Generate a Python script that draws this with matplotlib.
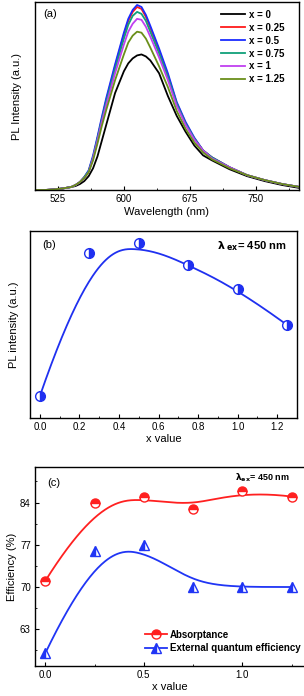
import numpy as np
import matplotlib
matplotlib.use('Agg')
import matplotlib.pyplot as plt
from matplotlib.ticker import MultipleLocator, NullLocator

plt.rcParams['font.family'] = ['Liberation Sans', 'DejaVu Sans']
plt.rcParams['font.size'] = 7
plt.rcParams['xtick.direction'] = 'in'
plt.rcParams['ytick.direction'] = 'in'
plt.rcParams['axes.linewidth'] = 1.0

# ---- (a) PL spectra -------------------------------------------------
wl = [500, 510, 520, 530, 540, 545, 550, 555, 560, 565, 570, 575, 580, 590, 600,
      605, 610, 615, 620, 625, 630, 640, 650, 660, 670, 680, 690, 700, 720, 740,
      760, 780, 800]
pl_0 = [0, 0, 0.5, 1.5, 3, 4, 6, 9, 14, 22, 34, 50, 66, 98, 120,
        128, 133, 136, 137, 135, 131, 118, 95, 75, 59, 45, 35, 30, 21, 14,
        9, 5, 2]
pl_025 = [0, 0, 0.5, 1.5, 3, 5, 8, 13, 19, 33, 52, 72, 91, 125, 157,
          171, 180, 185, 183, 175, 164, 141, 116, 88, 68, 52, 40, 33, 23, 15,
          10, 6, 3]
pl_05 = [0, 0, 0.5, 1.5, 3, 5, 8, 13, 20, 35, 54, 74, 93, 127, 159,
         173, 182, 187, 185, 177, 166, 143, 118, 89, 69, 53, 40, 33, 23, 15,
         10, 6, 3]
pl_075 = [0, 0, 0.5, 1.5, 3, 5, 8, 13, 19, 33, 52, 71, 89, 122, 153,
          167, 176, 180, 178, 171, 160, 138, 114, 87, 67, 52, 40, 33, 23, 15,
          10, 6, 3]
pl_1 = [0, 0, 0.5, 1.5, 3, 5, 8, 12, 18, 32, 50, 69, 86, 118, 147,
        160, 168, 173, 172, 165, 155, 134, 111, 85, 66, 51, 40, 32, 23, 15,
        10, 6, 3]
pl_125 = [0, 0, 0.5, 1.5, 3, 5, 8, 12, 18, 30, 47, 65, 81, 111, 137,
          149, 156, 160, 159, 153, 144, 125, 104, 80, 62, 48, 38, 31, 22, 15,
          10, 6, 3]
spectra = [pl_0, pl_025, pl_05, pl_075, pl_1, pl_125]
spec_labels = ['x = 0', 'x = 0.25', 'x = 0.5', 'x = 0.75', 'x = 1', 'x = 1.25']
spec_colors = ['black', '#ff1a1a', '#1a2cff', '#10a07a', '#c040f0', '#6a8f1a']

# ---- (b) PL intensity vs x -----------------------------------------
xv = [0.0, 0.25, 0.5, 0.75, 1.0, 1.25]
pl_int = [0.22, 1.65, 1.75, 1.53, 1.29, 0.93]

# ---- (c) efficiencies ------------------------------------------------
absorp = [71.0, 84.0, 85.0, 83.0, 86.0, 85.0]
eqe = [59.0, 76.0, 77.0, 70.0, 70.0, 70.0]


def bspline(xs, ys, k=3, num=300):
    # clamped B-spline with the data points as control points (Origin style)
    xs = np.asarray(xs, float)
    ys = np.asarray(ys, float)
    n = len(xs)
    t = np.concatenate([np.zeros(k), np.linspace(0, 1, n - k + 1), np.ones(k)])
    u = np.linspace(0, 1, num)
    u[-1] -= 1e-9
    B = np.zeros((num, len(t) - 1))
    for i in range(len(t) - 1):
        B[:, i] = (t[i] <= u) & (u < t[i + 1])
    for d in range(1, k + 1):
        Bn = np.zeros((num, len(t) - 1 - d))
        for i in range(len(t) - 1 - d):
            a = 0
            b = 0
            if t[i + d] > t[i]:
                a = (u - t[i]) / (t[i + d] - t[i]) * B[:, i]
            if t[i + d + 1] > t[i + 1]:
                b = (t[i + d + 1] - u) / (t[i + d + 1] - t[i + 1]) * B[:, i + 1]
            Bn[:, i] = a + b
        B = Bn
    return B @ xs, B @ ys


W, H = 304, 696
fig = plt.figure(figsize=(W / 100, H / 100), dpi=100)


def box(l, t, r, b):
    return [l / W, 1 - b / H, (r - l) / W, (b - t) / H]


# ======================= (a) ==========================================
ax1 = fig.add_axes(box(35, 2, 299, 190))
for s, lab, c in zip(spectra, spec_labels, spec_colors):
    ax1.plot(wl, s, color=c, lw=1.3, label=lab)
ax1.set_xlim(499, 799)
ax1.set_ylim(0, 190)
ax1.xaxis.set_major_locator(MultipleLocator(75))
ax1.xaxis.set_minor_locator(MultipleLocator(37.5))
ax1.yaxis.set_major_locator(NullLocator())
ax1.tick_params(axis='x', which='major', length=3, pad=3)
ax1.tick_params(axis='x', which='minor', length=1.5)
ax1.set_xlabel('Wavelength (nm)', fontsize=8, labelpad=2)
ax1.set_ylabel('PL Intensity (a.u.)', fontsize=8, labelpad=9)
ax1.text(0.03, 0.965, '(a)', transform=ax1.transAxes, fontsize=8, va='top')
leg = ax1.legend(loc='upper right', bbox_to_anchor=(0.98, 1.005), frameon=False,
                 handlelength=2.4, labelspacing=0.3, handletextpad=0.5,
                 prop={'weight': 'bold', 'size': 7})

# ======================= (b) ==========================================
ax2 = fig.add_axes(box(30, 231, 297, 418))
bx, by = bspline(xv, pl_int)
ax2.plot(bx, by, color='#1f30f0', lw=1.3)
ax2.plot(xv, pl_int, 'o', ms=7, color='#1f30f0', fillstyle='right',
         markerfacecoloralt='white', mec='#1f30f0', mew=1.0)
ax2.set_xlim(-0.05, 1.30)
ax2.set_ylim(0, 1.87)
ax2.xaxis.set_major_locator(MultipleLocator(0.2))
ax2.xaxis.set_minor_locator(MultipleLocator(0.1))
ax2.xaxis.set_major_formatter(plt.FormatStrFormatter('%.1f'))
ax2.yaxis.set_major_locator(NullLocator())
ax2.tick_params(axis='x', which='major', length=3, pad=3)
ax2.tick_params(axis='x', which='minor', length=1.5)
ax2.set_xlabel('x value', fontsize=8, labelpad=1)
ax2.set_ylabel('PL intensity (a.u.)', fontsize=8, labelpad=8)
ax2.text(0.045, 0.95, '(b)', transform=ax2.transAxes, fontsize=8, va='top')
ax2.text(0.96, 0.955, r'$\mathbf{\lambda}_{\ \mathbf{ex}}$= 450 nm', transform=ax2.transAxes,
         fontsize=8, fontweight='bold', va='top', ha='right')

# ======================= (c) ==========================================
ax3 = fig.add_axes(box(35, 467, 304, 666))
rx, ry = bspline(xv, absorp)
ex, ey = bspline(xv, eqe)
ax3.plot(rx, ry, color='#ff2020', lw=1.3)
ax3.plot(ex, ey, color='#2035f5', lw=1.3)
ax3.plot(xv, absorp, 'o', ms=6.5, color='#ff2020', fillstyle='top',
         markerfacecoloralt='white', mec='#ff2020', mew=1.0)
ax3.plot(xv, eqe, '^', ms=6.5, color='#2035f5', fillstyle='left',
         markerfacecoloralt='white', mec='#2035f5', mew=1.0)
h1, = ax3.plot([], [], '-o', ms=6.5, color='#ff2020', fillstyle='top',
               markerfacecoloralt='white', mec='#ff2020', mew=1.0, lw=1.3)
h2, = ax3.plot([], [], '-^', ms=6.5, color='#2035f5', fillstyle='left',
               markerfacecoloralt='white', mec='#2035f5', mew=1.0, lw=1.3)
ax3.legend([h1, h2], ['Absorptance', 'External quantum efficiency'],
           loc='lower right', bbox_to_anchor=(1.02, 0.02), frameon=False,
           handlelength=2.3, handletextpad=0.3, labelspacing=0.35,
           prop={'weight': 'bold', 'size': 7})
ax3.set_xlim(-0.052, 1.313)
ax3.set_ylim(56.9, 89.9)
ax3.spines['right'].set_visible(False)
ax3.xaxis.set_major_locator(MultipleLocator(0.5))
ax3.xaxis.set_minor_locator(MultipleLocator(0.25))
ax3.xaxis.set_major_formatter(plt.FormatStrFormatter('%.1f'))
ax3.yaxis.set_major_locator(MultipleLocator(7))
ax3.yaxis.set_minor_locator(MultipleLocator(3.5))
ax3.tick_params(which='major', length=3, pad=3)
ax3.tick_params(which='minor', length=1.5)
ax3.tick_params(axis='y', right=False, which='both')
ax3.set_xlabel('x value', fontsize=8, labelpad=1)
ax3.set_ylabel('Efficiency (%)', fontsize=8, labelpad=2)
ax3.text(0.045, 0.945, '(c)', transform=ax3.transAxes, fontsize=8, va='top')
ax3.text(0.945, 0.975, r'$\mathbf{\lambda}_{\mathbf{ex}}$= 450 nm', transform=ax3.transAxes,
         fontsize=6.5, fontweight='bold', va='top', ha='right')

fig.savefig('out.png', dpi=100)
